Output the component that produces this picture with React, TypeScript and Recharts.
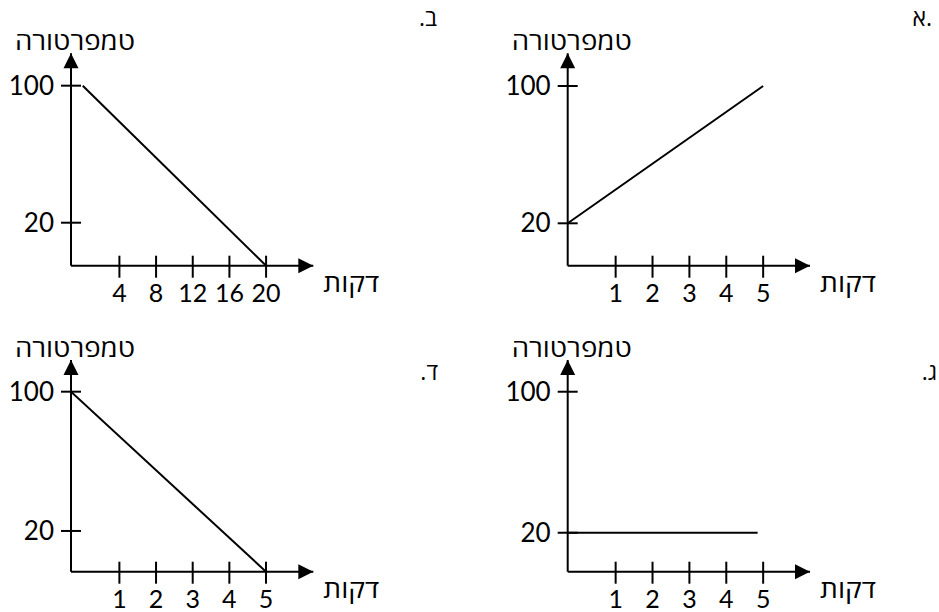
import { LineChart, Line, XAxis, YAxis, ReferenceDot } from 'recharts'

const FONT = 'Lato, "Open Sans", "Liberation Sans", "DejaVu Sans", sans-serif'
const HEB_FONT = '"Open Sans", "Liberation Sans", "DejaVu Sans", sans-serif'

const yTitle = 'טמפרטורה'
const xTitle = 'דקות'

const tempTicks = [20, 100]
const minuteTicksShort = [1, 2, 3, 4, 5]
const minuteTicksLong = [4, 8, 12, 16, 20]

// א – warms from 20 to 100 within 5 minutes
const minutesA = [-0.3, 5]
const tempsA = [20, 100]
// ב – cools from 100 down to the axis over 20 minutes
const minutesB = [0, 20]
const tempsB = [100, -5.1]
// ג – stays at 20
const minutesC = [-0.3, 4.85]
const tempsC = [20, 20]
// ד – cools from 100 down to the axis in 5 minutes
const minutesD = [-0.32, 5]
const tempsD = [100, -3.4]

type Rect = { left: number; top: number; right: number; bottom: number }
type Box = { left: number; top: number; width: number; height: number }

interface PanelProps {
  minutes: number[]
  temps: number[]
  xTicks: number[]
  xDomain: [number, number]
  yDomain: [number, number]
  plot: Rect
  box: Box
}

function MinuteTick(props: any) {
  const { x, y, payload } = props
  return (
    <g>
      <line x1={x} x2={x} y1={y - 10} y2={y + 12} stroke="#000" strokeWidth={2} />
      <text x={x} y={y + 36} textAnchor="middle" fontSize={25} fill="#000" fontFamily={FONT}>
        {payload.value}
      </text>
    </g>
  )
}

function TempTick(props: any) {
  const { x, y, payload } = props
  return (
    <g>
      <line x1={x - 10} x2={x + 10} y1={y} y2={y} stroke="#000" strokeWidth={2} />
      <text x={x - 17} y={y + 9} textAnchor="end" fontSize={26} fill="#000" fontFamily={FONT}>
        {payload.value}
      </text>
    </g>
  )
}

// arrow head at the top of the temperature axis, with its title above
function UpArrow(props: any) {
  const { cx, cy } = props
  return (
    <g>
      <polygon points={`${cx},${cy} ${cx - 7.5},${cy + 15} ${cx + 7.5},${cy + 15}`} fill="#000" />
      <text x={cx + 4} y={cy - 3} textAnchor="middle" fontSize={25} fill="#000" fontFamily={HEB_FONT}
        textLength={120} lengthAdjust="spacingAndGlyphs">
        {yTitle}
      </text>
    </g>
  )
}

// arrow head at the end of the minutes axis, with its title
function RightArrow(props: any) {
  const { cx, cy } = props
  return (
    <g>
      <polygon points={`${cx},${cy} ${cx - 15},${cy - 7.5} ${cx - 15},${cy + 7.5}`} fill="#000" />
      <text x={cx + 38} y={cy + 26} textAnchor="middle" fontSize={25} fill="#000" fontFamily={HEB_FONT}
        textLength={56} lengthAdjust="spacingAndGlyphs">
        {xTitle}
      </text>
    </g>
  )
}

function Panel({ minutes, temps, xTicks, xDomain, yDomain, plot, box }: PanelProps) {
  const data = minutes.map((m, i) => ({ minute: m, temp: temps[i] }))
  const axisW = plot.left - box.left
  const axisH = box.top + box.height - plot.bottom
  return (
    <div style={{ position: 'absolute', left: box.left, top: box.top }}>
      <LineChart width={box.width} height={box.height} data={data} style={{ overflow: 'visible' }}
        margin={{ top: plot.top - box.top, right: box.left + box.width - plot.right, bottom: 0, left: 0 }}>
        <XAxis dataKey="minute" type="number" domain={xDomain} allowDataOverflow ticks={xTicks} interval={0}
          height={axisH} tickSize={0} tickMargin={0} tickLine={false} tick={MinuteTick}
          axisLine={{ stroke: '#000', strokeWidth: 2 }} />
        <YAxis type="number" domain={yDomain} allowDataOverflow ticks={tempTicks} interval={0}
          width={axisW} tickSize={0} tickMargin={0} tickLine={false} tick={TempTick}
          axisLine={{ stroke: '#000', strokeWidth: 2 }} />
        <Line type="linear" dataKey="temp" stroke="#000" strokeWidth={2} dot={false} isAnimationActive={false} />
        <ReferenceDot x={xDomain[0]} y={yDomain[1]} shape={UpArrow} ifOverflow="visible" />
        <ReferenceDot x={xDomain[1]} y={yDomain[0]} shape={RightArrow} ifOverflow="visible" />
      </LineChart>
    </div>
  )
}

function Letter({ text, right, top, rtl }: { text: string; right: number; top: number; rtl: boolean }) {
  return (
    <div dir={rtl ? 'rtl' : 'ltr'} style={{ position: 'absolute', right, top, fontSize: 23, lineHeight: '23px', fontFamily: HEB_FONT, whiteSpace: 'nowrap' }}>
      {text}
    </div>
  )
}

export default function App() {
  return (
    <div style={{ position: 'absolute', left: 0, top: 0, width: 939, height: 612, background: '#fff', fontFamily: FONT, overflow: 'hidden' }}>
      <Panel minutes={minutesB} temps={tempsB} xTicks={minuteTicksLong} xDomain={[-1.28, 25.15]} yDomain={[-5.1, 118.9]}
        plot={{ left: 71, top: 53.3, right: 313.3, bottom: 265.7 }} box={{ left: 0, top: 0, width: 400, height: 310 }} />
      <Panel minutes={minutesA} temps={tempsA} xTicks={minuteTicksShort} xDomain={[-0.3, 6.27]} yDomain={[-4.7, 119.05]}
        plot={{ left: 567.7, top: 53.3, right: 810, bottom: 265.7 }} box={{ left: 480, top: 0, width: 420, height: 310 }} />
      <Panel minutes={minutesD} temps={tempsD} xTicks={minuteTicksShort} xDomain={[-0.32, 6.29]} yDomain={[-3.4, 118.2]}
        plot={{ left: 71, top: 360, right: 313.3, bottom: 571.7 }} box={{ left: 0, top: 306, width: 400, height: 306 }} />
      <Panel minutes={minutesC} temps={tempsC} xTicks={minuteTicksShort} xDomain={[-0.3, 6.27]} yDomain={[-2.1, 118]}
        plot={{ left: 567.7, top: 360, right: 810, bottom: 571.7 }} box={{ left: 480, top: 306, width: 420, height: 306 }} />
      <Letter text="א." right={939 - 932} top={6} rtl={false} />
      <Letter text="ב." right={939 - 437} top={6} rtl={true} />
      <Letter text="ג." right={939 - 937} top={360} rtl={true} />
      <Letter text="ד." right={939 - 438} top={360} rtl={true} />
    </div>
  )
}
